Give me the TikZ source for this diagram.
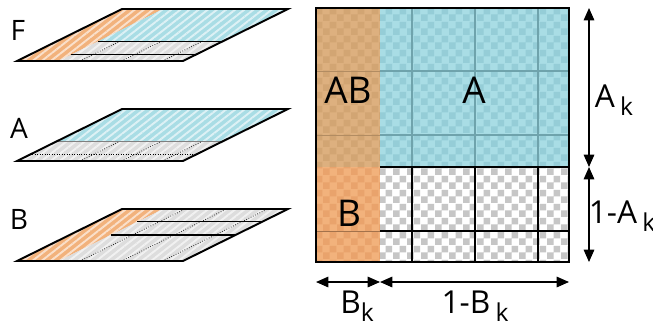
\documentclass[tikz,border=0pt]{standalone}
\usepackage{fontspec}
\setmainfont{Open Sans}
\usetikzlibrary{arrows.meta,patterns,patterns.meta}
\definecolor{skyA}{HTML}{A9DDE5}
\definecolor{skyAd}{HTML}{95CDD7}
\definecolor{tanAB}{HTML}{DDB07F}
\definecolor{tanABd}{HTML}{D2A573}
\definecolor{orgB}{HTML}{F2B27C}
\definecolor{orgBd}{HTML}{E9A36C}
\definecolor{chk}{HTML}{C6C6C6}
\definecolor{gridA}{HTML}{6FA3AC}
\pgfdeclarepatternformonly{checks}{\pgfpointorigin}{\pgfqpoint{8pt}{8pt}}{\pgfqpoint{8pt}{8pt}}{%
  \pgfpathrectangle{\pgfpointorigin}{\pgfqpoint{4pt}{4pt}}%
  \pgfpathrectangle{\pgfqpoint{4pt}{4pt}}{\pgfqpoint{4pt}{4pt}}%
  \pgfusepath{fill}}
\newcommand\lowk{\raisebox{-0.5ex}{\fontsize{14}{14}\selectfont k}}

\begin{document}
\begin{tikzpicture}[x=0.02cm,y=-0.02cm,
  cellA/.style={fill=skyA,postaction={pattern=checks,pattern color=skyAd}},
  cellAB/.style={fill=tanAB,postaction={pattern=checks,pattern color=tanABd}},
  cellB/.style={fill=orgB,postaction={pattern=checks,pattern color=orgBd}},
  cellN/.style={fill=white,postaction={pattern=checks,pattern color=chk}},
  layer/.style={shift={(17,#1)},x={(3.32cm,0cm)},y={(2.1cm,1.04cm)}},
  stripe/.style={fill=#1,postaction={pattern={Lines[angle=38,distance=3.2pt,line width=1.1pt]},pattern color=white!60!#1}},
  lay/.style={font=\fontsize{16}{18}\selectfont},
  big/.style={font=\fontsize{21}{24}\selectfont},
  dimlbl/.style={font=\fontsize{18}{21}\selectfont},
  dim/.style={{Triangle[length=7pt,width=6pt]}-{Triangle[length=7pt,width=6pt]},line width=0.7pt}]
  \useasboundingbox (0,0) rectangle (653,329);

  % the three layers
  \begin{scope}[layer=61]
    \fill[stripe=orgB] (0,0)--(0.25,0)--(0.25,1)--(0,1)--cycle;
    \fill[stripe=skyA] (0.25,0.374)--(1,0.374)--(1,1)--(0.25,1)--cycle;
    \fill[stripe=chk!60] (0.25,0)--(1,0)--(1,0.374)--(0.25,0.374)--cycle;
    \draw[line width=0.6pt] (0.25,0.374)--(1,0.374) (0.25,0.122)--(1,0.122);
    \foreach \u in {0.38,0.63,0.877} \draw[densely dotted] (\u,0)--(\u,0.374);
    \draw[line width=1.1pt] (0,0)--(1,0)--(1,1)--(0,1)--cycle;
  \end{scope}
  \begin{scope}[layer=161]
    \fill[stripe=skyA] (0,0.374)--(1,0.374)--(1,1)--(0,1)--cycle;
    \fill[stripe=chk!60] (0,0)--(1,0)--(1,0.374)--(0,0.374)--cycle;
    \draw[gray,line width=0.4pt] (0,0.374)--(1,0.374);
    \draw[densely dotted] (0,0.122)--(1,0.122);
    \foreach \u in {0.38,0.63,0.877} \draw[densely dotted] (\u,0)--(\u,0.374);
    \draw[line width=1.1pt] (0,0)--(1,0)--(1,1)--(0,1)--cycle;
  \end{scope}
  \begin{scope}[layer=261]
    \fill[stripe=orgB] (0,0)--(0.25,0)--(0.25,1)--(0,1)--cycle;
    \fill[stripe=chk!60] (0.25,0)--(1,0)--(1,1)--(0.25,1)--cycle;
    \draw[line width=0.6pt] (0.25,0.752)--(1,0.752) (0.25,0.5)--(1,0.5);
    \foreach \u in {0.38,0.63,0.877} \draw[densely dotted] (\u,0)--(\u,1);
    \draw[line width=1.1pt] (0,0)--(1,0)--(1,1)--(0,1)--cycle;
  \end{scope}
  \node[lay] (lf) at (18,30) {F};
  \node[lay] (la) at (19,128) {A};
  \node[lay] (lb) at (19,219) {B};

  % the square
  \fill[cellAB] (316,8) rectangle (380,167);
  \fill[cellB] (316,167) rectangle (380,262);
  \fill[cellA] (380,8) rectangle (569,167);
  \fill[cellN] (380,167) rectangle (569,262);
  \foreach \gx in {412,475,538} {
    \draw[gridA,line width=0.6pt] (\gx,8)--(\gx,167);
    \draw[line width=0.6pt] (\gx,167)--(\gx,262);
  }
  \foreach \gy in {71,135} {
    \draw[gridA,line width=0.6pt] (380,\gy)--(569,\gy);
    \draw[tanABd!85!black,line width=0.5pt] (316,\gy)--(380,\gy);
  }
  \draw[line width=0.6pt] (380,231)--(569,231) (380,167)--(569,167);
  \draw[orgBd!70!black,line width=0.5pt] (316,231)--(380,231);
  \draw[line width=1.2pt] (316,8) rectangle (569,262);
  \node[big] (nab) at (348,90) {AB};
  \node[big] (na) at (474,90) {A};
  \node[big] (nb) at (349,213) {B};

  % sizes
  \coordinate (ak0) at (589,8);
  \coordinate (ak1) at (589,167);
  \coordinate (ak2) at (589,262);
  \coordinate (bk0) at (316,282);
  \coordinate (bk1) at (380,282);
  \coordinate (bk2) at (569,282);
  \draw[dim] (ak0)--(ak1);
  \draw[dim] (ak1)--(ak2);
  \draw[dim] (bk0)--(bk1);
  \draw[dim] (bk1)--(bk2);
  \node[dimlbl] (tak) at (614,100) {A\,\lowk};
  \node[dimlbl] (tnak) at (622,216) {1-A\,\lowk};
  \node[dimlbl] (tbk) at (357,306) {B\lowk};
  \node[dimlbl] (tnbk) at (475,306) {1-B\,\lowk};
\end{tikzpicture}
\end{document}
